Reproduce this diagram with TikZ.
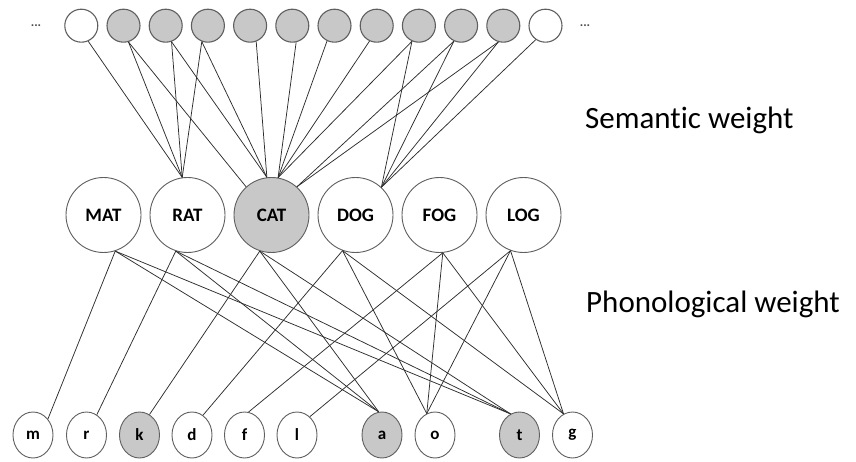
\documentclass[tikz,border=0pt]{standalone}
\usepackage{fontspec}
\setmainfont{Carlito}[Ligatures={NoCommon}]
\usetikzlibrary{shapes.geometric}
\definecolor{nodegray}{RGB}{200,200,200}
\definecolor{edgecol}{RGB}{95,95,95}
\definecolor{linecol}{RGB}{45,45,45}
\begin{document}
\begin{tikzpicture}[x=1pt,y=-1pt,
  feat/.style={circle, draw=edgecol, line width=1.1pt, minimum size=33pt, inner sep=0pt},
  word/.style={circle, draw=edgecol, line width=0.9pt, minimum size=75pt, inner sep=0pt, font=\fontsize{19}{19}\selectfont\bfseries},
  phon/.style={ellipse, draw=edgecol, line width=0.9pt, minimum width=40pt, minimum height=46pt, inner sep=0pt, font=\fontsize{17}{17}\selectfont\bfseries},
  on/.style={fill=nodegray},
  off/.style={fill=white},
  conn/.style={draw=linecol, line width=0.75pt},
  lbl/.style={anchor=base west, inner sep=0pt, font=\fontsize{31}{31}\selectfont},
  dots/.style={inner sep=0pt, font=\fontsize{13}{13}\selectfont\bfseries, text=black!70}]
\useasboundingbox (0,0) rectangle (856,462);

% top (semantic feature) units
\node[feat,off] (T1)  at (81.3,25.7) {};
\node[feat,on]  (T2)  at (123.5,25.7) {};
\node[feat,on]  (T3)  at (165.7,25.7) {};
\node[feat,on]  (T4)  at (207.9,25.7) {};
\node[feat,on]  (T5)  at (250.1,25.7) {};
\node[feat,on]  (T6)  at (292.3,25.7) {};
\node[feat,on]  (T7)  at (334.5,25.7) {};
\node[feat,on]  (T8)  at (376.7,25.7) {};
\node[feat,on]  (T9)  at (418.9,25.7) {};
\node[feat,on]  (T10) at (461.1,25.7) {};
\node[feat,on]  (T11) at (503.3,25.7) {};
\node[feat,off] (T12) at (545.5,25.7) {};
\node[dots] (dl) at (36,26) {...};
\node[dots] (dr) at (585,26) {...};

% word units
\node[word,off] (MAT) at (103.5,215) {MAT};
\node[word,off] (RAT) at (187.5,215) {RAT};
\node[word,on]  (CAT) at (271.5,215) {CAT};
\node[word,off] (DOG) at (355.5,215) {DOG};
\node[word,off] (FOG) at (439.5,215) {FOG};
\node[word,off] (LOG) at (523.5,215) {LOG};

% phoneme units
\node[phon,off] (m) at (33,435) {m};
\node[phon,off] (r) at (86.5,435) {r};
\node[phon,on]  (k) at (139.5,435) {k};
\node[phon,off] (d) at (192,435) {d};
\node[phon,off] (f) at (244.5,435) {f};
\node[phon,off] (l) at (297,435) {l};
\node[phon,on]  (a) at (382,435) {a};
\node[phon,off] (o) at (435,435) {o};
\node[phon,on]  (t) at (519.5,435) {t};
\node[phon,off] (g) at (572.5,435) {g};

% labels
\node[lbl] (sem) at (585,129) {Semantic weight};
\node[lbl] (pho) at (586,312) {Phonological weight};

% semantic connections
\draw[conn] (T1.-66) -- (RAT.98);
\draw[conn] (T2.-73) -- (RAT.98);
\draw[conn] (T2.-73) -- (CAT.132);
\draw[conn] (T3.-70) -- (RAT.98);
\draw[conn] (T3.-70) -- (CAT.97);
\draw[conn] (T4.-111) -- (RAT.98);
\draw[conn] (T4.-111) -- (CAT.97);
\draw[conn] (T5.-69) -- (CAT.97);
\draw[conn] (T6.-77) -- (CAT.80);
\draw[conn] (T7.-116) -- (CAT.80);
\draw[conn] (T8.-115) -- (CAT.80);
\draw[conn] (T9.-114) -- (CAT.80);
\draw[conn] (T9.-114) -- (DOG.47);
\draw[conn] (T10.-115) -- (CAT.48);
\draw[conn] (T10.-115) -- (DOG.47);
\draw[conn] (T11.-107) -- (CAT.48);
\draw[conn] (T11.-107) -- (DOG.47);
\draw[conn] (T12.-125) -- (DOG.47);

% phonological connections
\draw[conn] (MAT.-72) -- (m.47);
\draw[conn] (MAT.-72) -- (a.98);
\draw[conn] (MAT.-72) -- (t.113);
\draw[conn] (RAT.-108) -- (r.63);
\draw[conn] (RAT.-108) -- (a.98);
\draw[conn] (RAT.-108) -- (t.113);
\draw[conn] (CAT.-108) -- (k.64);
\draw[conn] (CAT.-108) -- (a.98);
\draw[conn] (CAT.-108) -- (t.113);
\draw[conn] (DOG.-110) -- (d.61);
\draw[conn] (DOG.-110) -- (o.111);
\draw[conn] (DOG.-110) -- (g.113);
\draw[conn] (FOG.-85) -- (f.80);
\draw[conn] (FOG.-85) -- (o.111);
\draw[conn] (FOG.-85) -- (g.113);
\draw[conn] (LOG.-110) -- (l.55);
\draw[conn] (LOG.-110) -- (o.111);
\draw[conn] (LOG.-110) -- (g.113);
\end{tikzpicture}
\end{document}
